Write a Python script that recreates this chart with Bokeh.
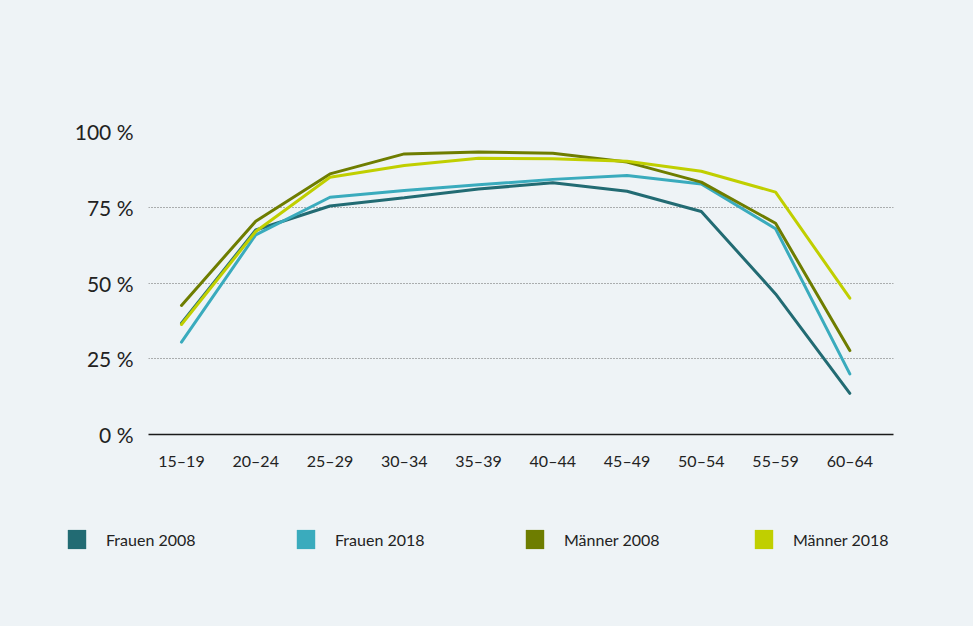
from bokeh.plotting import figure
from bokeh.models import Range1d, FixedTicker, Legend, LegendItem
from bokeh.layouts import column
from bokeh.embed import file_html
from bokeh.resources import INLINE

age_groups = ["15–19", "20–24", "25–29", "30–34", "35–39", "40–44", "45–49", "50–54", "55–59", "60–64"]
frauen_2008 = [36.7, 67.5, 75.4, 78.1, 81.0, 83.1, 80.3, 73.6, 46.4, 13.6]
frauen_2018 = [30.5, 65.9, 78.3, 80.5, 82.4, 84.2, 85.5, 82.7, 67.9, 20.0]
maenner_2008 = [42.6, 70.4, 86.0, 92.6, 93.2, 92.8, 89.9, 83.3, 69.7, 27.7]
maenner_2018 = [36.3, 67.0, 84.9, 88.8, 91.2, 91.0, 90.2, 86.9, 80.0, 45.0]
y_ticks = [0, 25, 50, 75, 100]
y_tick_labels = ["0 %", "25 %", "50 %", "75 %", "100 %"]

series = [
    ("Frauen 2008", frauen_2008, "#226b73"),
    ("Frauen 2018", frauen_2018, "#3aabbd"),
    ("Männer 2008", maenner_2008, "#6e7d00"),
    ("Männer 2018", maenner_2018, "#c0cf00"),
]

FONT = "Lato"
BG = "#eef3f6"
TXT = "#222222"
W = 973
H_MAIN = 500
H_LEG = 126

p = figure(width=W, height=H_MAIN, output_backend="svg", toolbar_location=None,
           x_range=Range1d(-0.444, 9.588), y_range=Range1d(0, 100),
           min_border_left=148, min_border_right=80, min_border_top=131,
           min_border_bottom=H_MAIN - 434, title=None)
p.frame_align = False
p.background_fill_color = BG
p.border_fill_color = BG
p.outline_line_color = None

x = list(range(len(age_groups)))
for name, vals, col in series:
    p.line(x, vals, line_color=col, line_width=3, line_cap="round")

# axes
p.xaxis.ticker = FixedTicker(ticks=x)
p.xaxis.major_label_overrides = {i: lab for i, lab in enumerate(age_groups)}
p.xaxis.major_tick_line_color = None
p.xaxis.major_tick_out = 0
p.xaxis.major_tick_in = 0
p.xaxis.minor_tick_line_color = None
p.xaxis.axis_line_color = "#1a1a1a"
p.xaxis.axis_line_width = 1.5
p.xaxis.major_label_standoff = 16
p.xaxis.major_label_text_font = FONT
p.xaxis.major_label_text_font_size = "16px"
p.xaxis.major_label_text_color = TXT

p.yaxis.ticker = FixedTicker(ticks=y_ticks)
p.yaxis.major_label_overrides = {t: l for t, l in zip(y_ticks, y_tick_labels)}
p.yaxis.major_tick_line_color = None
p.yaxis.major_tick_out = 0
p.yaxis.major_tick_in = 0
p.yaxis.minor_tick_line_color = None
p.yaxis.axis_line_color = None
p.yaxis.major_label_standoff = 15
p.yaxis.major_label_text_font = FONT
p.yaxis.major_label_text_font_size = "21px"
p.yaxis.major_label_text_color = TXT

p.xgrid.grid_line_color = None
p.ygrid.ticker = FixedTicker(ticks=y_ticks[1:])
p.ygrid.grid_line_color = "#666666"
p.ygrid.grid_line_dash = "1 2"
p.ygrid.grid_line_width = 1

# legend in its own strip below the chart
pl = figure(width=W, height=H_LEG, output_backend="svg", toolbar_location=None,
            x_range=Range1d(0, 1), y_range=Range1d(0, 1),
            x_axis_type=None, y_axis_type=None,
            min_border_left=0, min_border_right=0, min_border_top=0, min_border_bottom=0,
            title=None)
pl.frame_align = False
pl.background_fill_color = BG
pl.border_fill_color = BG
pl.outline_line_color = None
pl.grid.visible = False

items = []
for name, vals, col in series:
    # zero-width swatches carrying the series colour (nothing visible in the strip)
    r = pl.quad(left=x, right=x, top=vals, bottom=vals, fill_color=col, line_color=None)
    items.append(LegendItem(label=name, renderers=[r]))

legend = Legend(items=items, orientation="horizontal", location=(65, 75),
                glyph_width=23, glyph_height=24, label_standoff=18,
                label_width=100, spacing=88, padding=0, margin=0,
                background_fill_alpha=0, border_line_color=None,
                label_text_font=FONT, label_text_font_size="16px",
                label_text_color=TXT)
pl.add_layout(legend, "center")

layout = column(p, pl, spacing=0, styles={"background-color": BG})
open("out.html", "w").write(file_html(layout, INLINE))
